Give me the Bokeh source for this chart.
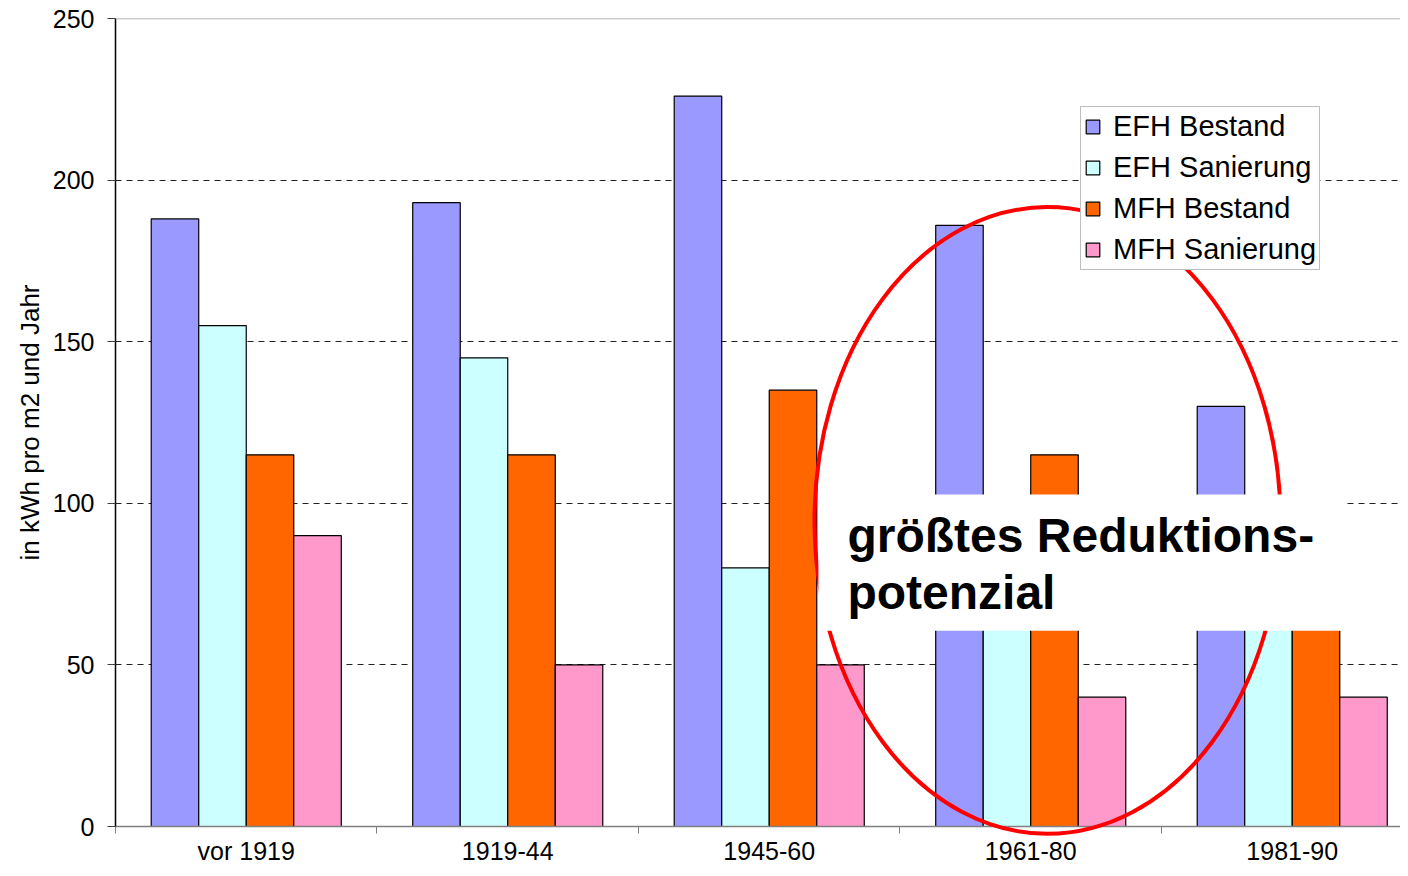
from bokeh.plotting import figure
from bokeh.models import Range1d, FixedTicker, Span
from bokeh.embed import file_html
from bokeh.resources import INLINE
from bokeh.core.properties import value

# ---- data ----
categories = ["vor 1919", "1919-44", "1945-60", "1961-80", "1981-90"]
efh_bestand = [188, 193, 226, 186, 130]
efh_sanierung = [155, 145, 80, 80, 75]
mfh_bestand = [115, 115, 135, 115, 90]
mfh_sanierung = [90, 50, 50, 40, 40]
series_names = ["EFH Bestand", "EFH Sanierung", "MFH Bestand", "MFH Sanierung"]
series_values = [efh_bestand, efh_sanierung, mfh_bestand, mfh_sanierung]
series_colors = ["#9999FF", "#CCFFFF", "#FF6600", "#FF99CC"]
y_ticks = [0, 50, 100, 150, 200, 250]
grid_ticks = [50, 100, 150, 200]
y_label = "in kWh pro m2 und Jahr"
callout_lines = ["größtes Reduktions-", "potenzial"]

FONT = "Liberation Sans"
BAR_W = 0.1817

p = figure(width=1400, height=868, output_backend="svg", toolbar_location=None,
           x_range=Range1d(0, 4.914), y_range=Range1d(0, 250),
           min_border_left=115, min_border_right=0, min_border_top=18,
           min_border_bottom=42)
p.background_fill_color = "white"
p.border_fill_color = "white"
p.outline_line_color = None

for j, (name, vals, color) in enumerate(zip(series_names, series_values, series_colors)):
    xs = [i + 0.5 + (j - 1.5) * BAR_W for i in range(len(categories))]
    p.vbar(x=xs, top=vals, width=BAR_W, bottom=0, fill_color=color,
           line_color="black", line_width=1.2, legend_label=name)

# grid
p.xgrid.visible = False
p.ygrid.ticker = FixedTicker(ticks=grid_ticks)
p.ygrid.grid_line_color = "#222222"
p.ygrid.grid_line_dash = "6 5"
p.ygrid.grid_line_width = 1

p.add_layout(Span(location=250, dimension="width", line_color="#999999", line_width=1.5))

# x axis
xa = p.xaxis[0]
xa.ticker = FixedTicker(ticks=[i + 0.5 for i in range(len(categories))],
                        minor_ticks=list(range(len(categories))))
xa.major_label_overrides = {i + 0.5: c for i, c in enumerate(categories)}
xa.major_tick_line_color = None
xa.major_tick_out = 0
xa.major_tick_in = 0
xa.minor_tick_out = 7
xa.minor_tick_in = 0
xa.minor_tick_line_color = "#808080"
xa.axis_line_color = "#808080"
xa.axis_line_width = 1.5
xa.major_label_standoff = 3
xa.major_label_text_font = FONT
xa.major_label_text_font_size = "25px"
xa.major_label_text_color = "black"

# y axis
ya = p.yaxis[0]
ya.ticker = FixedTicker(ticks=y_ticks)
ya.minor_tick_line_color = None
ya.major_tick_out = 8
ya.major_tick_in = 0
ya.major_tick_line_color = "#404040"
ya.axis_line_color = "black"
ya.axis_line_width = 1.5
ya.major_label_standoff = 13
ya.major_label_text_font = FONT
ya.major_label_text_font_size = "25px"
ya.major_label_text_color = "black"
ya.axis_label = y_label
ya.axis_label_text_font = FONT
ya.axis_label_text_font_size = "26px"
ya.axis_label_text_font_style = "normal"
ya.axis_label_text_color = "black"
ya.axis_label_standoff = 5

# legend
lg = p.legend[0]
lg.location = (965, 556)
lg.label_text_font = FONT
lg.label_text_font_size = "29px"
lg.label_text_color = "black"
lg.glyph_width = 17
lg.glyph_height = 17
lg.label_standoff = 12
lg.padding = 3
lg.spacing = 8
lg.label_height = 26
lg.margin = 0
lg.border_line_color = "#808080"
lg.border_line_width = 1
lg.background_fill_color = "white"
lg.background_fill_alpha = 1

# callout: red ellipse, white box, bold text
p.ellipse(x=[3.564], y=[94.7], width=[1.782], height=[194], fill_color=None,
          line_color="#FF0000", line_width=4, level="overlay")
p.quad(left=[2.688], right=[4.696], bottom=[60.6], top=[102.7],
       fill_color="white", line_color=None, level="overlay")
p.text(x=[2.799, 2.799], y=[90.0, 72.4], text=callout_lines,
       text_font=value(FONT), text_font_style=value("bold"),
       text_font_size=value("48px"), text_baseline=value("alphabetic"),
       text_color="black", level="overlay")

open("out.html", "w").write(file_html(p, INLINE))
